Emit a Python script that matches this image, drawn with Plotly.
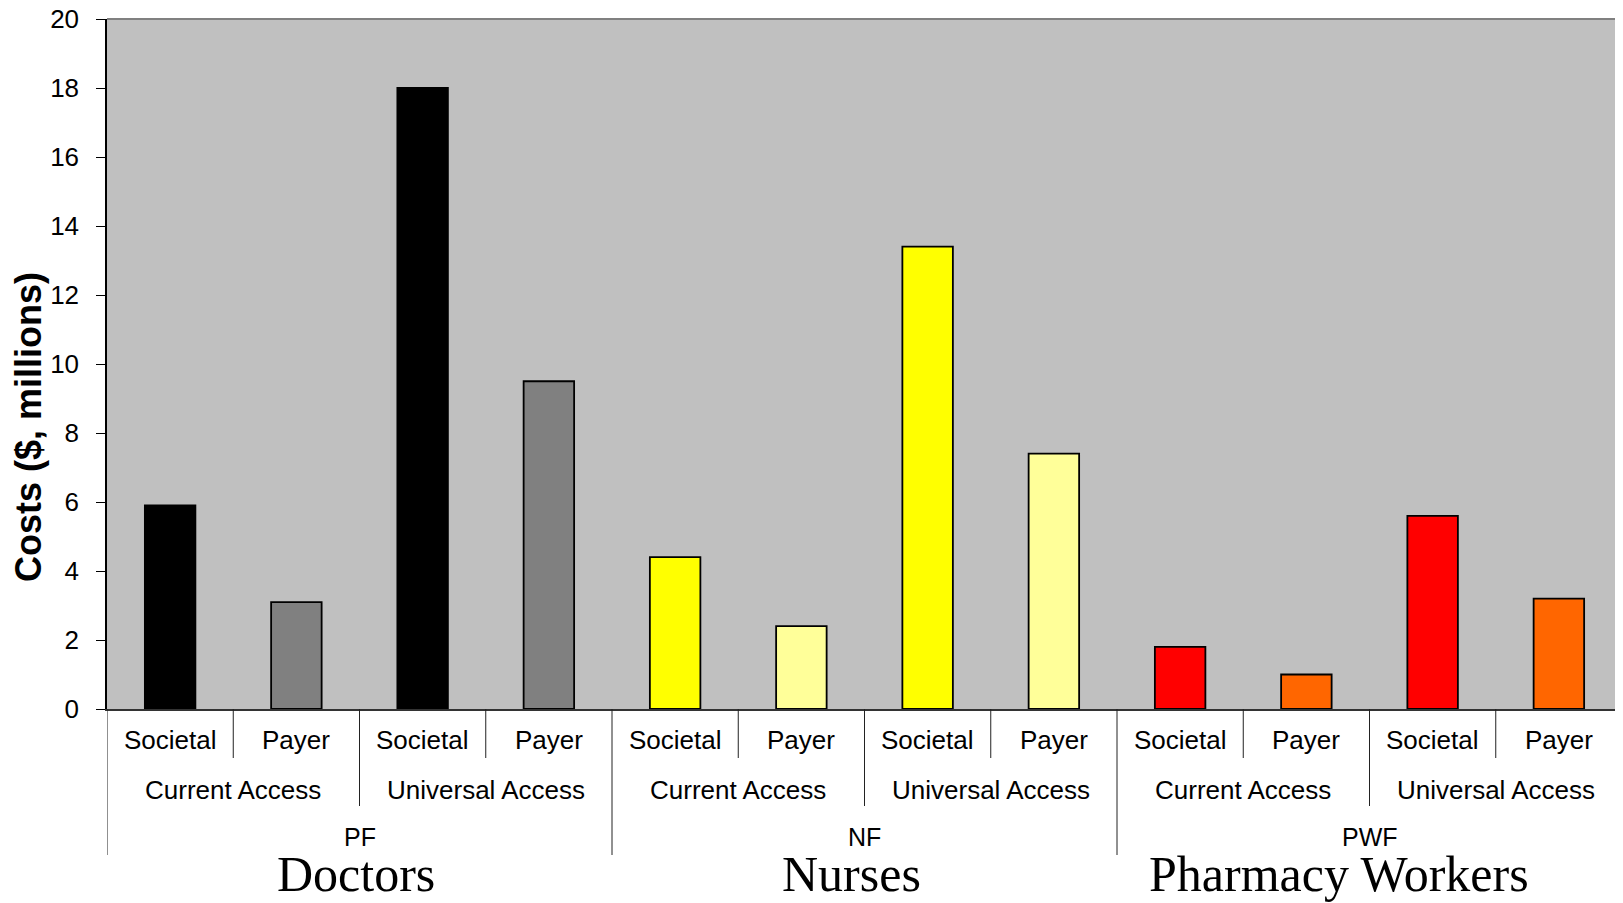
import plotly.graph_objects as go

# ---- data ----
groups = ["PF", "NF", "PWF"]
group_names = ["Doctors", "Nurses", "Pharmacy Workers"]
access_levels = ["Current Access", "Universal Access"]
perspectives = ["Societal", "Payer"]
doctors_costs = [5.9, 3.1, 18.0, 9.5]
nurses_costs = [4.4, 2.4, 13.4, 7.4]
pharmacy_costs = [1.8, 1.0, 5.6, 3.2]
y_ticks = [0, 2, 4, 6, 8, 10, 12, 14, 16, 18, 20]

# ---- styles ----
group_colors = [
    ["#000000", "#808080"],
    ["#FFFF00", "#FFFF99"],
    ["#FF0000", "#FF6600"],
]
name_shifts = [-4, -13, -31]

values = doctors_costs + nurses_costs + pharmacy_costs
n = len(values)
xs = list(range(n))
colors = []
for g in range(len(groups)):
    for a in range(len(access_levels)):
        colors.extend(group_colors[g])

# page body has an 8px default margin; compensate
OFF = 8
W, H = 1623 - OFF, 903 - OFF
L, R, T, B = 107 - OFF, 1, 19 - OFF, 194
ph = H - T - B


def py(pix):
    """reference pixel row -> paper y"""
    return (H - B - (pix - OFF)) / ph


fig = go.Figure()
fig.add_trace(go.Bar(
    x=xs, y=values,
    marker=dict(color=colors, line=dict(color="#000000", width=1.8)),
    width=0.4,
    hoverinfo="y",
))

ann = []
shapes = []
sans = "Liberation Sans, Arial, sans-serif"

# level 1 labels
for i in range(n):
    ann.append(dict(x=i, y=py(740), xref="x", yref="paper", text=perspectives[i % 2],
                    showarrow=False, font=dict(family=sans, size=26, color="#000"),
                    xanchor="center", yanchor="middle"))
# level 2 labels
for k in range(n // 2):
    ann.append(dict(x=2 * k + 0.5, y=py(790), xref="x", yref="paper",
                    text=access_levels[k % 2], showarrow=False,
                    font=dict(family=sans, size=26, color="#000"),
                    xanchor="center", yanchor="middle"))
# level 3 labels + group names
for g in range(len(groups)):
    ann.append(dict(x=4 * g + 1.5, y=py(837), xref="x", yref="paper", text=groups[g],
                    showarrow=False, font=dict(family=sans, size=25, color="#000"),
                    xanchor="center", yanchor="middle"))
    ann.append(dict(x=4 * g + 1.5, y=py(874), xref="x", yref="paper", text=group_names[g],
                    showarrow=False, xshift=name_shifts[g],
                    font=dict(family="Liberation Serif, Times New Roman, serif", size=50, color="#000"),
                    xanchor="center", yanchor="middle"))

# separators
line_style = dict(color="#222222", width=1)
for k in range(n // 2):
    shapes.append(dict(type="line", xref="x", yref="paper", x0=2 * k + 0.5, x1=2 * k + 0.5,
                       y0=0, y1=py(758), line=line_style))
for g in range(len(groups)):
    shapes.append(dict(type="line", xref="x", yref="paper", x0=4 * g + 1.5, x1=4 * g + 1.5,
                       y0=0, y1=py(806), line=line_style))
    shapes.append(dict(type="line", xref="x", yref="paper", x0=4 * g - 0.5, x1=4 * g - 0.5,
                       y0=0, y1=py(855), line=line_style))

# plot frame (top/right gray)
shapes.append(dict(type="line", xref="paper", yref="paper", x0=0, x1=1, y0=1, y1=1,
                   line=dict(color="#808080", width=2)))
shapes.append(dict(type="line", xref="paper", yref="paper", x0=1, x1=1, y0=0, y1=1,
                   line=dict(color="#808080", width=2)))

# y-axis title
ann.append(dict(x=(29 - OFF - L) / (W - L - R), y=py(427), xref="paper", yref="paper",
                text="<b>Costs ($, millions)</b>", textangle=-90, showarrow=False,
                font=dict(family=sans, size=36, color="#000"),
                xanchor="center", yanchor="middle"))

fig.update_layout(
    width=W, height=H,
    margin=dict(l=L, r=R, t=T, b=B, autoexpand=False),
    paper_bgcolor="#FFFFFF",
    plot_bgcolor="#C0C0C0",
    showlegend=False,
    annotations=ann,
    shapes=shapes,
    xaxis=dict(range=[-0.5, n - 0.5], showticklabels=False, ticks="", showgrid=False,
               zeroline=False, showline=True, linecolor="#333333", linewidth=1.5,
               automargin=False),
    yaxis=dict(range=[0, 20], tickvals=y_ticks, ticks="outside", ticklen=9,
               tickcolor="#000", tickwidth=1, showgrid=False, zeroline=False,
               showline=True, linecolor="#000", linewidth=1.5,
               ticklabelstandoff=12, ticklabeloverflow="allow", automargin=False,
               tickfont=dict(family=sans, size=26, color="#000")),
)

fig.write_html("out.html")
